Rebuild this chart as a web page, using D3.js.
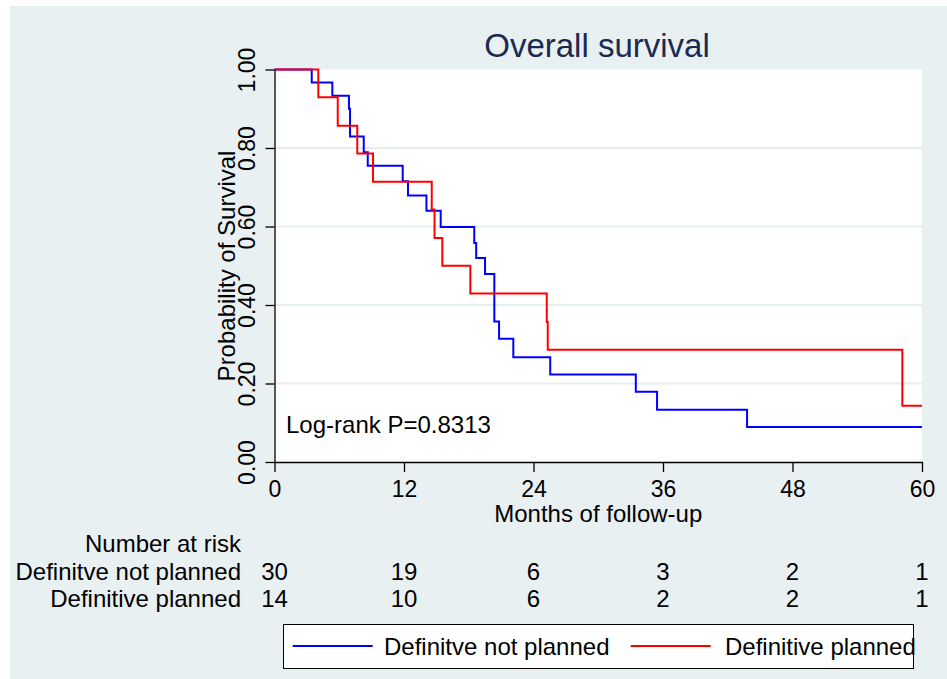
<!DOCTYPE html>
<html>
<head>
<meta charset="utf-8">
<script src="https://cdn.jsdelivr.net/npm/d3@7"></script>
<style>
  body { margin: 0; background: #fff; }
  svg { display: block; }
  text { font-family: "Liberation Sans", Arial, Helvetica, sans-serif; fill: #000; }
</style>
</head>
<body>
<svg id="chart" width="947" height="679"></svg>
<script>
// Kaplan-Meier step points: time in months, survival probability after each step
const notPlannedTime = [0, 3.45, 5.36, 6.90, 7.00, 8.27, 8.64, 11.88, 12.37, 14.08, 15.40, 18.51, 18.69, 19.51, 20.37, 20.81, 22.13, 25.55, 33.48, 35.45, 43.79, 60];
const notPlannedSurv = [1.000, 0.967, 0.933, 0.900, 0.829, 0.789, 0.755, 0.715, 0.679, 0.640, 0.599, 0.558, 0.520, 0.479, 0.358, 0.314, 0.267, 0.223, 0.179, 0.133, 0.089, 0.089];

const plannedTime = [0, 4.06, 5.86, 7.67, 9.13, 14.57, 14.83, 15.55, 18.15, 25.23, 25.32, 58.18, 60];
const plannedSurv = [1.000, 0.929, 0.857, 0.786, 0.714, 0.643, 0.571, 0.500, 0.429, 0.357, 0.286, 0.143, 0.143];

// Number-at-risk table
const riskTimes = [0, 12, 24, 36, 48, 60];
const riskNotPlanned = [30, 19, 6, 3, 2, 1];
const riskPlanned = [14, 10, 6, 2, 2, 1];

const xTicks = [0, 12, 24, 36, 48, 60];
const yTicks = [0, 0.2, 0.4, 0.6, 0.8, 1.0];

const groupNames = ["Definitve not planned", "Definitive planned"];
const groupColors = ["#0000ff", "#ff0000"];

const svg = d3.select("#chart");
const font = 24;

// graph region background
svg.append("rect").attr("x", 10).attr("y", 6).attr("width", 937).attr("height", 673)
  .attr("fill", "#e9f0f2");

const x = d3.scaleLinear().domain([0, 60]).range([274.5, 922]);
const y = d3.scaleLinear().domain([0, 1]).range([462, 69.5]);

// plot region
svg.append("rect")
  .attr("x", x(0)).attr("y", y(1))
  .attr("width", x(60) - x(0)).attr("height", y(0) - y(1))
  .attr("fill", "#fff");

// horizontal gridlines
svg.append("g").selectAll("line")
  .data(yTicks.filter(d => d > 0 && d < 1))
  .join("line")
  .attr("x1", x(0)).attr("x2", x(60))
  .attr("y1", d => y(d)).attr("y2", d => y(d))
  .attr("stroke", "#e6eef1").attr("stroke-width", 2);

// title
svg.append("text")
  .attr("x", 597).attr("y", 57)
  .attr("text-anchor", "middle")
  .style("font-size", "33px")
  .style("fill", "#1b2a52")
  .text("Overall survival");

// survival curves
const line = d3.line()
  .x(d => x(d[0]))
  .y(d => y(d[1]))
  .curve(d3.curveStepAfter);

const series = [
  d3.zip(notPlannedTime, notPlannedSurv),
  d3.zip(plannedTime, plannedSurv)
];

svg.append("g").selectAll("path")
  .data(series)
  .join("path")
  .attr("d", line)
  .attr("fill", "none")
  .attr("stroke", (d, i) => groupColors[i])
  .attr("stroke-width", 2);

// y axis
const yAxis = svg.append("g")
  .attr("transform", `translate(${x(0)},0)`)
  .call(d3.axisLeft(y).tickValues(yTicks).tickFormat(d3.format(".2f")).tickSize(9).tickSizeOuter(0));
yAxis.select(".domain").attr("stroke", "#000").attr("stroke-width", 1.3);
yAxis.selectAll(".tick line").attr("stroke", "#000").attr("stroke-width", 1.3);
yAxis.selectAll(".tick text")
  .attr("x", null).attr("dy", null)
  .attr("text-anchor", "middle")
  .attr("transform", "translate(-20,0) rotate(-90)")
  .style("font-size", "23px")
  .style("font-family", "Liberation Sans, Arial, sans-serif")
  .attr("fill", "#000");

// x axis
const xAxis = svg.append("g")
  .attr("transform", `translate(0,${y(0)})`)
  .call(d3.axisBottom(x).tickValues(xTicks).tickFormat(d3.format("d")).tickSize(10).tickSizeOuter(0));
xAxis.select(".domain").attr("stroke", "#000").attr("stroke-width", 1.3);
xAxis.selectAll(".tick line").attr("stroke", "#000").attr("stroke-width", 1.3);
xAxis.selectAll(".tick text")
  .attr("y", 35).attr("dy", null)
  .style("font-size", "23px")
  .style("font-family", "Liberation Sans, Arial, sans-serif")
  .attr("fill", "#000");

// axis titles
svg.append("text")
  .attr("transform", "translate(235,266) rotate(-90)")
  .attr("text-anchor", "middle")
  .style("font-size", font + "px")
  .text("Probability of Survival");

svg.append("text")
  .attr("x", (x(0) + x(60)) / 2).attr("y", 522)
  .attr("text-anchor", "middle")
  .style("font-size", font + "px")
  .text("Months of follow-up");

// log-rank annotation
svg.append("text")
  .attr("x", 286).attr("y", 433)
  .style("font-size", font + "px")
  .text("Log-rank P=0.8313");

// number at risk
const labelRight = 241;
svg.append("text")
  .attr("x", labelRight).attr("y", 552)
  .attr("text-anchor", "end")
  .style("font-size", font + "px")
  .text("Number at risk");

const riskRows = [riskNotPlanned, riskPlanned];
const rowY = [579.5, 607];
riskRows.forEach((row, i) => {
  svg.append("text")
    .attr("x", labelRight).attr("y", rowY[i])
    .attr("text-anchor", "end")
    .style("font-size", font + "px")
    .text(groupNames[i]);
  svg.append("g").selectAll("text")
    .data(d3.zip(riskTimes, row))
    .join("text")
    .attr("x", d => x(d[0])).attr("y", rowY[i])
    .attr("text-anchor", "middle")
    .style("font-size", font + "px")
    .text(d => d[1]);
});

// legend
const legend = svg.append("g");
legend.append("rect")
  .attr("x", 283.5).attr("y", 624.5).attr("width", 630).attr("height", 44)
  .attr("fill", "#fff").attr("stroke", "#000").attr("stroke-width", 1);

const legendItems = [
  { x0: 292.7, x1: 372.7, tx: 384 },
  { x0: 630.7, x1: 710.7, tx: 725 }
];
legendItems.forEach((it, i) => {
  legend.append("line")
    .attr("x1", it.x0).attr("x2", it.x1)
    .attr("y1", 646).attr("y2", 646)
    .attr("stroke", groupColors[i]).attr("stroke-width", 2);
  legend.append("text")
    .attr("x", it.tx).attr("y", 655)
    .style("font-size", font + "px")
    .text(groupNames[i]);
});
</script>
</body>
</html>
